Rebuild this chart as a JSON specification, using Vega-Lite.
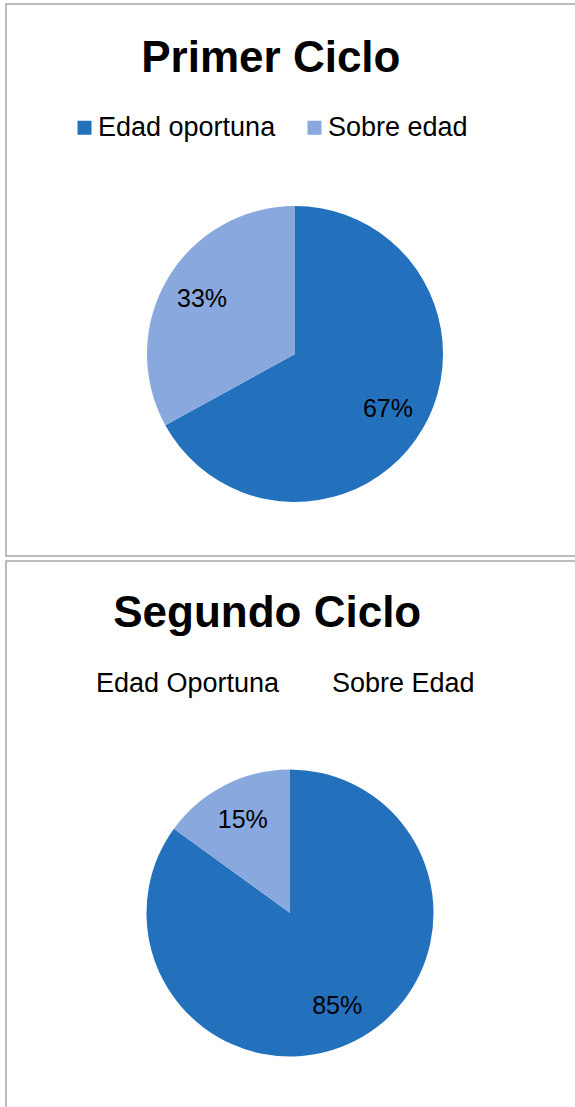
{
  "$schema": "https://vega.github.io/schema/vega-lite/v6.json",
  "padding": {"left": 5, "top": 3, "right": 0, "bottom": 0},
  "background": "white",
  "spacing": 3,
  "config": {
    "view": {"stroke": null},
    "font": "Liberation Sans"
  },
  "resolve": {
    "scale": {"color": "independent", "theta": "independent"},
    "legend": {"color": "independent"}
  },
  "vconcat": [
    {
      "width": 600,
      "height": 552,
      "data": {"values": [
        {"categoria": "Edad oportuna", "valor": 0.67},
        {"categoria": "Sobre edad", "valor": 0.33}
      ]},
      "title": {"text": "Primer Ciclo", "fontSize": 44, "fontWeight": "bold", "color": "black", "font": "Liberation Sans", "anchor": "start", "offset": -78, "dx": 136},
      "layer": [
        {
          "data": {"values": [{"panel": "Primer Ciclo"}]},
          "mark": {"type": "rect", "fill": null, "stroke": "#a6a6a6", "strokeWidth": 1.5},
          "encoding": {}
        },
        {
          "mark": {"type": "arc", "radius": 148, "x": 289, "y": 350},
          "encoding": {
            "theta": {"field": "valor", "type": "quantitative", "stack": true},
            "order": {"field": "valor", "type": "quantitative", "sort": "descending"},
            "color": {
              "field": "categoria", "type": "nominal",
              "scale": {"domain": ["Edad oportuna", "Sobre edad"], "range": ["#2371bd", "#88a8de"]},
              "legend": {
                "orient": "none", "legendX": 65, "legendY": 110, "direction": "horizontal",
                "title": null, "labelFontSize": 27, "labelFont": "Liberation Sans", "labelColor": "black",
                "labelLimit": 400, "symbolType": "square", "symbolSize": 196, "symbolStrokeWidth": 0,
                "labelOffset": 0, "columnPadding": 25, "padding": 0
              }
            }
          }
        },
        {
          "mark": {"type": "text", "radius": 108, "fontSize": 25, "font": "Liberation Sans", "color": "black", "x": 289, "y": 350},
          "encoding": {
            "theta": {"field": "valor", "type": "quantitative", "stack": true},
            "order": {"field": "valor", "type": "quantitative", "sort": "descending"},
            "text": {"field": "valor", "type": "quantitative", "format": ".0%"}
          }
        }
      ]
    },
    {
      "width": 600,
      "height": 560,
      "data": {"values": [
        {"categoria": "Edad Oportuna", "valor": 0.85},
        {"categoria": "Sobre Edad", "valor": 0.15}
      ]},
      "title": {"text": "Segundo Ciclo", "fontSize": 44, "fontWeight": "bold", "color": "black", "font": "Liberation Sans", "anchor": "start", "offset": -76, "dx": 108},
      "layer": [
        {
          "data": {"values": [{"panel": "Segundo Ciclo"}]},
          "mark": {"type": "rect", "fill": null, "stroke": "#a6a6a6", "strokeWidth": 1.5},
          "encoding": {}
        },
        {
          "mark": {"type": "arc", "radius": 143.5, "x": 284, "y": 352},
          "encoding": {
            "theta": {"field": "valor", "type": "quantitative", "stack": true},
            "order": {"field": "valor", "type": "quantitative", "sort": "descending"},
            "color": {
              "field": "categoria", "type": "nominal",
              "scale": {"domain": ["Edad Oportuna", "Sobre Edad"], "range": ["#2371bd", "#88a8de"]},
              "legend": {
                "orient": "none", "legendX": 63, "legendY": 109, "direction": "horizontal",
                "title": null, "labelFontSize": 27, "labelFont": "Liberation Sans", "labelColor": "black",
                "labelLimit": 400, "symbolType": "square", "symbolSize": 196, "symbolStrokeWidth": 0,
                "symbolOpacity": 0, "labelOffset": 0, "columnPadding": 25, "padding": 0
              }
            }
          }
        },
        {
          "mark": {"type": "text", "radius": 104, "fontSize": 25, "font": "Liberation Sans", "color": "black", "x": 284, "y": 352},
          "encoding": {
            "theta": {"field": "valor", "type": "quantitative", "stack": true},
            "order": {"field": "valor", "type": "quantitative", "sort": "descending"},
            "text": {"field": "valor", "type": "quantitative", "format": ".0%"}
          }
        }
      ]
    }
  ]
}
